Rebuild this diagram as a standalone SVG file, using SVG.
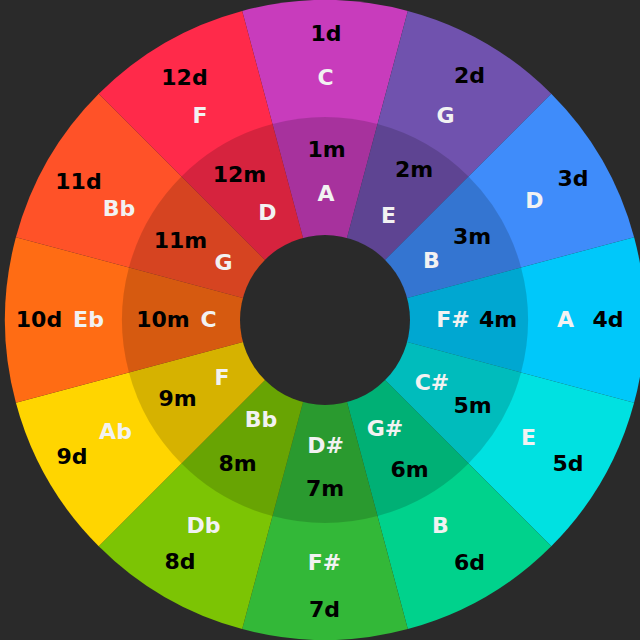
<svg xmlns="http://www.w3.org/2000/svg" width="640" height="640" viewBox="0 0 640 640">
<style>
.shade{fill:#000;fill-opacity:0.16}
text{font-family:"DejaVu Sans","Verdana",sans-serif;font-weight:bold;font-size:22px;text-anchor:middle}
.num{fill:#000}
.note{fill:#f2f2f2}
</style>
<rect width="640" height="640" fill="#2a2a2a"/>
<g id="key-1">
<path d="M325 320 L242.18 10.9 A320 320 0 0 1 407.82 10.9 Z" fill="#c83cbc"/>
<path class="shade" d="M325 320 L272.46 123.92 A203 203 0 0 1 377.54 123.92 Z"/>
<text class="num" x="326" y="41">1d</text>
<text class="note" x="325.5" y="85">C</text>
<text class="num" x="326.5" y="157">1m</text>
<text class="note" x="326" y="201">A</text>
</g>
<g id="key-2">
<path d="M325 320 L407.82 10.9 A320 320 0 0 1 551.27 93.73 Z" fill="#7052ae"/>
<path class="shade" d="M325 320 L377.54 123.92 A203 203 0 0 1 468.54 176.46 Z"/>
<text class="num" x="469.5" y="83">2d</text>
<text class="note" x="445.5" y="123">G</text>
<text class="num" x="414" y="177">2m</text>
<text class="note" x="388.5" y="223">E</text>
</g>
<g id="key-3">
<path d="M325 320 L551.27 93.73 A320 320 0 0 1 634.1 237.18 Z" fill="#3f8cfa"/>
<path class="shade" d="M325 320 L468.54 176.46 A203 203 0 0 1 521.08 267.46 Z"/>
<text class="num" x="573" y="186">3d</text>
<text class="note" x="534.5" y="208">D</text>
<text class="num" x="472" y="244">3m</text>
<text class="note" x="431.5" y="268">B</text>
</g>
<g id="key-4">
<path d="M325 320 L634.1 237.18 A320 320 0 0 1 634.1 402.82 Z" fill="#00c8fa"/>
<path class="shade" d="M325 320 L521.08 267.46 A203 203 0 0 1 521.08 372.54 Z"/>
<text class="num" x="608" y="327">4d</text>
<text class="note" x="565.5" y="327">A</text>
<text class="num" x="498" y="327">4m</text>
<text class="note" x="453" y="327">F#</text>
</g>
<g id="key-5">
<path d="M325 320 L634.1 402.82 A320 320 0 0 1 551.27 546.27 Z" fill="#00e1e1"/>
<path class="shade" d="M325 320 L521.08 372.54 A203 203 0 0 1 468.54 463.54 Z"/>
<text class="num" x="568" y="471">5d</text>
<text class="note" x="528.5" y="445">E</text>
<text class="num" x="472.5" y="413">5m</text>
<text class="note" x="432" y="390">C#</text>
</g>
<g id="key-6">
<path d="M325 320 L551.27 546.27 A320 320 0 0 1 407.82 629.1 Z" fill="#00d28c"/>
<path class="shade" d="M325 320 L468.54 463.54 A203 203 0 0 1 377.54 516.08 Z"/>
<text class="num" x="469.5" y="570">6d</text>
<text class="note" x="440.5" y="533">B</text>
<text class="num" x="409.5" y="477">6m</text>
<text class="note" x="385" y="436">G#</text>
</g>
<g id="key-7">
<path d="M325 320 L407.82 629.1 A320 320 0 0 1 242.18 629.1 Z" fill="#33b838"/>
<path class="shade" d="M325 320 L377.54 516.08 A203 203 0 0 1 272.46 516.08 Z"/>
<text class="num" x="324.5" y="617">7d</text>
<text class="note" x="324.5" y="570">F#</text>
<text class="num" x="325" y="496">7m</text>
<text class="note" x="325.5" y="453">D#</text>
</g>
<g id="key-8">
<path d="M325 320 L242.18 629.1 A320 320 0 0 1 98.73 546.27 Z" fill="#7cc404"/>
<path class="shade" d="M325 320 L272.46 516.08 A203 203 0 0 1 181.46 463.54 Z"/>
<text class="num" x="180" y="569">8d</text>
<text class="note" x="203.5" y="533">Db</text>
<text class="num" x="237.5" y="471">8m</text>
<text class="note" x="261" y="427">Bb</text>
</g>
<g id="key-9">
<path d="M325 320 L98.73 546.27 A320 320 0 0 1 15.9 402.82 Z" fill="#ffd500"/>
<path class="shade" d="M325 320 L181.46 463.54 A203 203 0 0 1 128.92 372.54 Z"/>
<text class="num" x="72" y="464">9d</text>
<text class="note" x="115.5" y="439">Ab</text>
<text class="num" x="177.5" y="406">9m</text>
<text class="note" x="222" y="385">F</text>
</g>
<g id="key-10">
<path d="M325 320 L15.9 402.82 A320 320 0 0 1 15.9 237.18 Z" fill="#ff6c14"/>
<path class="shade" d="M325 320 L128.92 372.54 A203 203 0 0 1 128.92 267.46 Z"/>
<text class="num" x="39" y="327">10d</text>
<text class="note" x="88.5" y="327">Eb</text>
<text class="num" x="163" y="327">10m</text>
<text class="note" x="208.5" y="327">C</text>
</g>
<g id="key-11">
<path d="M325 320 L15.9 237.18 A320 320 0 0 1 98.73 93.73 Z" fill="#ff5228"/>
<path class="shade" d="M325 320 L128.92 267.46 A203 203 0 0 1 181.46 176.46 Z"/>
<text class="num" x="78.5" y="189">11d</text>
<text class="note" x="119" y="216">Bb</text>
<text class="num" x="180.5" y="248">11m</text>
<text class="note" x="223.5" y="270">G</text>
</g>
<g id="key-12">
<path d="M325 320 L98.73 93.73 A320 320 0 0 1 242.18 10.9 Z" fill="#ff2a4a"/>
<path class="shade" d="M325 320 L181.46 176.46 A203 203 0 0 1 272.46 123.92 Z"/>
<text class="num" x="184.5" y="85">12d</text>
<text class="note" x="200" y="123">F</text>
<text class="num" x="239.5" y="182">12m</text>
<text class="note" x="267.5" y="220">D</text>
</g>
<circle id="hole" cx="325" cy="320" r="85" fill="#2a2a2a"/>
</svg>
